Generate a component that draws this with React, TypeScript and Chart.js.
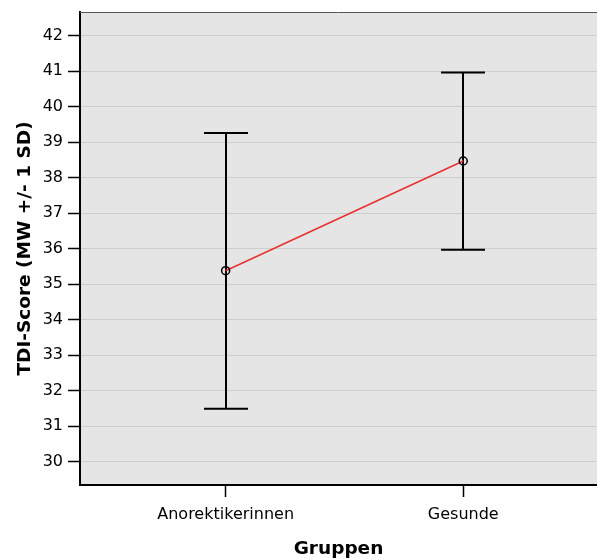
import React, { useEffect, useRef } from "react";
import { Chart, registerables } from "chart.js";

Chart.register(...registerables);

const categories = ["Anorektikerinnen", "Gesunde"];
const means = [35.38, 38.47];
const upper = [39.26, 40.96];
const lower = [31.49, 35.97];
const yTicks = [30, 31, 32, 33, 34, 35, 36, 37, 38, 39, 40, 41, 42];
const yTitle = "TDI-Score (MW +/- 1 SD)";
const xTitle = "Gruppen";

const FONT = "'DejaVu Sans', 'Liberation Sans', Arial, sans-serif";

export default function App() {
  const ref = useRef<HTMLCanvasElement | null>(null);

  useEffect(() => {
    document.body.style.margin = "0";
    const canvas = ref.current;
    if (!canvas) return;

    const bgPlugin = {
      id: "plotBg",
      beforeDraw(chart: any) {
        const { ctx, chartArea } = chart;
        ctx.save();
        ctx.fillStyle = "#e5e5e5";
        ctx.fillRect(chartArea.left, chartArea.top, chartArea.right - chartArea.left, chartArea.bottom - chartArea.top);
        ctx.restore();
      },
      afterDraw(chart: any) {
        const { ctx, chartArea } = chart;
        ctx.save();
        ctx.strokeStyle = "#555555";
        ctx.lineWidth = 1;
        ctx.beginPath();
        ctx.moveTo(chartArea.left, chartArea.top + 0.5);
        ctx.lineTo(chartArea.right, chartArea.top + 0.5);
        ctx.stroke();
        ctx.restore();
      },
    };

    const errorBarPlugin = {
      id: "errorBars",
      beforeDatasetsDraw(chart: any) {
        const { ctx, scales } = chart;
        const xs = scales.x;
        const ys = scales.y;
        ctx.save();
        ctx.strokeStyle = "#000000";
        ctx.lineWidth = 2;
        const cap = 22;
        categories.forEach((_, i) => {
          const px = Math.round(xs.getPixelForValue(i));
          const pu = ys.getPixelForValue(upper[i]);
          const pl = ys.getPixelForValue(lower[i]);
          ctx.beginPath();
          ctx.moveTo(px, pu);
          ctx.lineTo(px, pl);
          ctx.moveTo(px - cap, pu);
          ctx.lineTo(px + cap, pu);
          ctx.moveTo(px - cap, pl);
          ctx.lineTo(px + cap, pl);
          ctx.stroke();
        });
        ctx.restore();
      },
    };

    const chart = new Chart(canvas, {
      type: "scatter",
      data: {
        datasets: [
          {
            data: means.map((m, i) => ({ x: i, y: m })),
            showLine: true,
            borderColor: "#e8302f",
            borderWidth: 1.5,
            pointRadius: 4,
            pointBorderWidth: 1.5,
            pointBorderColor: "#000000",
            pointBackgroundColor: "rgba(0,0,0,0)",
          },
        ],
      },
      options: {
        responsive: false,
        animation: false,
        devicePixelRatio: 1,
        layout: { autoPadding: false, padding: { top: 12, left: 0, right: 0, bottom: 0 } },
        plugins: { legend: { display: false }, tooltip: { enabled: false } },
        scales: {
          x: {
            type: "linear",
            min: -0.613,
            max: 1.563,
            afterBuildTicks: (axis: any) => {
              axis.ticks = categories.map((_, i) => ({ value: i }));
            },
            afterFit: (scale: any) => {
              scale.height = 74;
              scale.paddingLeft = 0;
              scale.paddingRight = 0;
            },
            ticks: {
              autoSkip: false,
              maxRotation: 0,
              minRotation: 0,
              padding: 8,
              color: "#000000",
              font: { family: FONT, size: 16 },
              callback: (v: any) => categories[v as number] ?? "",
            },
            grid: {
              drawOnChartArea: false,
              drawTicks: true,
              tickLength: 12,
              tickColor: "#000000",
              tickWidth: 1.5,
            },
            border: { color: "#000000", width: 2 },
            title: {
              display: true,
              text: xTitle,
              color: "#000000",
              font: { family: FONT, size: 18.5, weight: "bold", lineHeight: 1 },
              padding: { top: 0, bottom: 1 },
            },
          },
          y: {
            type: "linear",
            min: 29.344,
            max: 42.667,
            afterBuildTicks: (axis: any) => {
              axis.ticks = yTicks.map((v) => ({ value: v }));
            },
            afterFit: (scale: any) => {
              scale.width = 80;
              scale.paddingTop = 0;
              scale.paddingBottom = 0;
            },
            ticks: {
              autoSkip: false,
              padding: 5,
              color: "#000000",
              font: { family: FONT, size: 16 },
              callback: (v: any) => String(v),
            },
            grid: {
              color: "#cdcdcd",
              lineWidth: 1,
              drawTicks: true,
              tickLength: 12,
              tickColor: "#000000",
              tickWidth: 1.5,
            },
            border: { color: "#000000", width: 2 },
            title: {
              display: true,
              text: yTitle,
              color: "#000000",
              font: { family: FONT, size: 18.5, weight: "bold", lineHeight: 1 },
              padding: { top: 16, bottom: 0 },
            },
          },
        },
      },
      plugins: [bgPlugin, errorBarPlugin],
    });

    return () => chart.destroy();
  }, []);

  return (
    <canvas
      ref={ref}
      width={597}
      height={559}
      style={{ display: "block", width: "597px", height: "559px" }}
    />
  );
}
